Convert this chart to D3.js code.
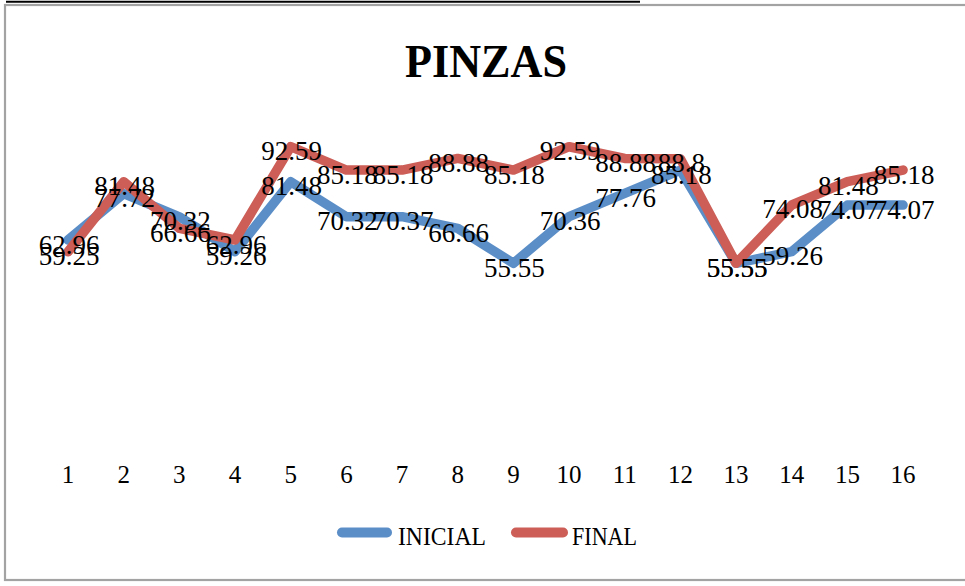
<!DOCTYPE html>
<html><head><meta charset="utf-8">
<script src="https://cdn.jsdelivr.net/npm/d3@7"></script>
<style>html,body{margin:0;padding:0;background:#fff;}svg{display:block;}</style>
</head><body>
<script>
const categories = ["1","2","3","4","5","6","7","8","9","10","11","12","13","14","15","16"];
const inicial = [62.96,77.72,70.32,59.26,81.48,70.32,70.37,66.66,55.55,70.36,77.76,85.18,55.55,59.26,74.07,74.07];
const finalV = [59.25,81.48,66.66,62.96,92.59,85.18,85.18,88.88,85.18,92.59,88.88,88.8,55.55,74.08,81.48,85.18];
const seriesNames = ["INICIAL","FINAL"];
const title = "PINZAS";

const W = 965, H = 586;
const colors = ["#5b8ec7","#cc5e57"];
const font = "'Liberation Serif','DejaVu Serif',serif";

const svg = d3.select("body").append("svg").attr("width", W).attr("height", H);

svg.append("line").attr("x1",6).attr("x2",640).attr("y1",1.7).attr("y2",1.7)
  .attr("stroke","#000").attr("stroke-width",2);
svg.append("rect").attr("x",5).attr("y",5).attr("width",965).attr("height",575)
  .attr("fill","#fff").attr("stroke","#a3a3a3").attr("stroke-width",2.2);

const x = d3.scaleBand().domain(categories).range([40.2, 930.9]);
const y = d3.scaleLinear().domain([0,100]).range([438.2, 123.4]);
const cx = d => x(d) + x.bandwidth()/2;

svg.append("text").attr("x",486).attr("y",77).attr("text-anchor","middle")
  .attr("font-family",font).attr("font-weight","bold").attr("font-size",47)
  .attr("textLength",162).attr("lengthAdjust","spacingAndGlyphs").text(title);

const ax = svg.append("g").attr("transform","translate(0,483)")
  .call(d3.axisBottom(x).tickSize(0).tickPadding(0));
ax.select(".domain").remove();
ax.selectAll("text").attr("font-family",font).attr("font-size",25).attr("fill","#000")
  .attr("dy",0).attr("y",0);

const data = [inicial, finalV];
const line = d3.line().x((d,i)=>cx(categories[i])).y(d=>y(d));
data.forEach((s,k)=>{
  svg.append("path").datum(s).attr("d",line).attr("fill","none")
    .attr("stroke",colors[k]).attr("stroke-width",9.5)
    .attr("stroke-linejoin","round").attr("stroke-linecap","round");
});
data.forEach((s,k)=>{
  svg.append("g").selectAll("text").data(s).join("text")
    .attr("x",(d,i)=>cx(categories[i])+1).attr("y",d=>y(d)+13.5)
    .attr("text-anchor","middle").attr("font-family",font).attr("font-size",27)
    .attr("fill","#000").text(d=>String(d));
});

const leg = [{x1:337,x2:392,tx:398},{x1:511,x2:568,tx:572}];
seriesNames.forEach((n,k)=>{
  svg.append("line").attr("x1",leg[k].x1+5).attr("x2",leg[k].x2-5).attr("y1",532.5).attr("y2",532.5)
    .attr("stroke",colors[k]).attr("stroke-width",10).attr("stroke-linecap","round");
  svg.append("text").attr("x",leg[k].tx).attr("y",544.5).attr("font-family",font)
    .attr("font-size",25).attr("fill","#000")
    .attr("textLength", k===0?88:65).attr("lengthAdjust","spacingAndGlyphs").text(n);
});
</script>
</body></html>
